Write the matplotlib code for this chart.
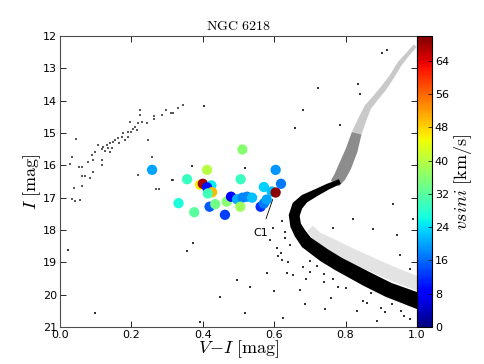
import numpy as np
import matplotlib
matplotlib.use('Agg')
import matplotlib.pyplot as plt

plt.rcParams['mathtext.fontset'] = 'cm'
plt.rcParams['xtick.direction'] = 'in'
plt.rcParams['ytick.direction'] = 'in'

# blue straggler stars: colour, magnitude, vsini
bss_vi = [0.258, 0.511, 0.412, 0.604, 0.356, 0.506, 0.392, 0.400, 0.424, 0.412,
          0.426, 0.414, 0.571, 0.619, 0.593, 0.604, 0.332, 0.376, 0.419, 0.435,
          0.462, 0.467, 0.479, 0.496, 0.511, 0.524, 0.538, 0.505, 0.562, 0.571, 0.579]
bss_i = [16.14, 15.51, 16.14, 16.14, 16.43, 16.43, 16.60, 16.57, 16.62, 16.68,
         16.83, 16.87, 16.67, 16.57, 16.81, 16.84, 17.17, 17.45, 17.28, 17.20,
         17.53, 17.12, 16.97, 17.05, 17.00, 16.97, 17.00, 17.28, 17.28, 17.18, 17.06]
vsini = [20, 36, 40, 19, 29, 29, 46, 68, 25, 10, 50, 30, 23, 17, 22, 69, 27, 32,
         15, 34, 13, 36, 8, 21, 18, 18, 22, 38, 12, 17, 20]

# main sequence / subgiant ridge line (dense part of the CMD)
ms_vi = [0.784, 0.75, 0.72, 0.685, 0.665, 0.656, 0.660, 0.672, 0.69, 0.74, 0.78, 0.86, 0.92, 1.00, 1.04]
ms_i = [16.50, 16.66, 16.83, 17.03, 17.25, 17.55, 17.85, 18.10, 18.38, 18.78, 19.05, 19.52, 19.85, 20.18, 20.35]
ms_half = [2.5, 3.0, 3.5, 4.5, 5.5, 5.5, 5.5, 6.0, 6.5, 7.0, 7.0, 7.5, 7.5, 8.0, 8.0]

# red giant branch ridge: lower (dense) and upper (sparse) parts
rgb_lo_vi = [0.770, 0.784, 0.798, 0.817, 0.831]
rgb_lo_i = [16.56, 16.35, 16.04, 15.53, 15.01]
rgb_lo_half = [5.0, 6.0, 6.5, 6.0, 5.0]
rgb_hi_vi = [0.831, 0.850, 0.863, 0.885, 0.906, 0.930, 0.952, 0.975, 0.995]
rgb_hi_i = [15.01, 14.50, 14.19, 13.90, 13.62, 13.25, 12.85, 12.55, 12.30]
rgb_hi_half = [5.0, 4.0, 3.5, 3.0, 3.0, 2.5, 2.5, 2.0, 2.0]

# binary sequence ridge (sparse band above the MS)
bin_vi = [0.70, 0.72, 0.76, 0.81, 0.86, 0.91, 0.96, 1.00, 1.04]
bin_i = [17.95, 18.20, 18.48, 18.75, 19.00, 19.25, 19.48, 19.65, 19.80]
bin_half = [4, 5, 7, 7, 7, 7, 7, 7, 7]

# horizontal branch + scattered field stars
hb_vi = [0.344, 0.331, 0.310, 0.316, 0.296, 0.285, 0.264, 0.264, 0.224, 0.224, 0.245,
         0.229, 0.219, 0.210, 0.204, 0.191, 0.177, 0.173, 0.163, 0.154, 0.149, 0.140,
         0.131, 0.121, 0.117, 0.126, 0.140, 0.135, 0.107, 0.098, 0.089, 0.079, 0.093,
         0.117, 0.117, 0.093, 0.061, 0.053, 0.033, 0.028, 0.044, 0.061, 0.070, 0.084,
         0.061, 0.039, 0.033, 0.042, 0.056, 0.247, 0.257, 0.219, 0.268, 0.277, 0.317,
         0.196, 0.215, 0.191, 0.182, 0.166, 0.145, 0.198]
hb_i = [14.13, 14.24, 14.37, 14.37, 14.29, 14.44, 14.47, 14.58, 14.29, 14.44, 14.68,
        14.65, 14.70, 14.80, 14.89, 14.96, 15.01, 15.11, 15.16, 15.22, 15.27, 15.32,
        15.37, 15.42, 15.51, 15.55, 15.58, 15.47, 15.37, 15.58, 15.68, 15.89, 15.83,
        15.83, 15.99, 16.20, 16.04, 16.04, 15.73, 15.96, 15.20, 16.33, 16.33, 16.38,
        16.64, 16.71, 17.04, 17.09, 17.07, 15.22, 15.73, 16.30, 16.73, 16.73, 16.45,
        14.65, 14.91, 15.11, 15.22, 15.30, 15.47, 14.96]
field_vi = [0.023, 0.098, 0.404, 0.369, 0.315, 0.373, 0.357, 0.518, 0.681, 0.658,
            0.724, 0.784, 0.840, 0.836, 0.901, 0.915, 0.448, 0.518, 0.495, 0.532,
            0.392, 0.625, 0.654, 0.672, 0.687, 0.742, 0.766, 0.832, 0.888, 0.963,
            0.588, 0.607, 0.597, 0.621, 0.630, 0.579, 0.621, 0.635, 0.766, 0.822,
            0.878, 0.943, 0.952, 0.934, 0.990, 0.612, 0.640, 0.700, 0.720, 0.800,
            0.850, 0.900, 0.980, 0.760, 0.870, 0.930, 0.980, 0.740, 0.690, 0.600,
            0.630, 0.645, 0.620, 0.700, 0.740, 0.680, 0.780, 0.860, 0.910, 0.955]
field_i = [18.62, 20.58, 14.17, 16.02, 16.45, 18.41, 18.65, 16.09, 14.29, 14.86,
           13.62, 14.75, 13.78, 13.47, 12.54, 12.42, 20.06, 20.58, 19.55, 19.75,
           20.84, 20.73, 19.39, 19.86, 20.29, 20.45, 19.51, 20.50, 20.82, 20.67,
           18.31, 18.56, 17.94, 17.72, 18.25, 19.34, 18.93, 19.34, 17.95, 17.65,
           17.96, 18.16, 18.76, 17.20, 17.65, 18.80, 19.00, 19.30, 19.10, 19.80,
           20.20, 20.40, 20.75, 20.10, 19.95, 20.30, 19.20, 19.60, 19.50, 19.90,
           18.05, 18.45, 18.70, 18.95, 19.35, 19.15, 19.75, 20.25, 20.55, 20.50]

vi_ticks = [0.0, 0.2, 0.4, 0.6, 0.8, 1.0]
i_ticks = [12, 13, 14, 15, 16, 17, 18, 19, 20, 21]
cb_ticks = [0, 8, 16, 24, 32, 40, 48, 56, 64]

# pixel scale of the axes, used to offset ridge lines perpendicular to themselves
px_x = 357.0
px_y = 32.33


def band(vi, mag, half):
    u = np.array(vi) * px_x
    v = np.array(mag) * px_y
    du = np.gradient(u)
    dv = np.gradient(v)
    n = np.hypot(du, dv)
    nu = -dv / n * np.array(half)
    nv = du / n * np.array(half)
    x = np.concatenate([u + nu, (u - nu)[::-1]]) / px_x
    y = np.concatenate([v + nv, (v - nv)[::-1]]) / px_y
    return x, y


fig = plt.figure(figsize=(4.85, 3.64), dpi=100)
ax = fig.add_axes([0.1237, 0.1016, 0.7361, 0.7995])
cax = fig.add_axes([0.8598, 0.1016, 0.0309, 0.7995])

# binary sequence and giant branch as light speckle bands
bx, by = band(bin_vi, bin_i, bin_half)
ax.fill(bx, by, color='0.5', alpha=0.22, linewidth=0)
rx, ry = band(rgb_hi_vi, rgb_hi_i, rgb_hi_half)
ax.fill(rx, ry, color='0.4', alpha=0.35, linewidth=0)
rx, ry = band(rgb_lo_vi, rgb_lo_i, rgb_lo_half)
ax.fill(rx, ry, color='0.25', alpha=0.6, linewidth=0)
# dense main sequence
mx, my = band(ms_vi, ms_i, ms_half)
ax.fill(mx, my, color='black', linewidth=0)

ax.scatter(hb_vi, hb_i, s=0.6, marker='s', color='0.35', linewidths=0)
ax.scatter(field_vi, field_i, s=0.6, marker='s', color='0.2', linewidths=0)

sc = ax.scatter(bss_vi, bss_i, c=vsini, cmap='jet', vmin=0, vmax=70,
                s=55, linewidths=0, zorder=3)

ax.annotate('C1', xy=(0.596, 17.05), xytext=(0.563, 18.1),
            ha='center', va='center', fontsize=8,
            arrowprops=dict(arrowstyle='-', color='black', lw=0.6,
                            shrinkA=5, shrinkB=0))

ax.set_xlim(0.0, 1.0)
ax.set_ylim(21, 12)
ax.set_xticks(vi_ticks)
ax.set_yticks(i_ticks)
ax.tick_params(labelsize=8, top=True, right=True, length=4, width=0.6, pad=2)
for s in ax.spines.values():
    s.set_linewidth(0.8)
    s.set_color('0.3')
ax.set_xlabel(r'$V\!-\!I\ [\mathrm{mag}]$', fontsize=13, labelpad=-1)
ax.set_ylabel(r'$I\ [\mathrm{mag}]$', fontsize=13, labelpad=0)
ax.set_title(r'$\mathrm{NGC\ 6218}$', fontsize=10, pad=4)

cb = fig.colorbar(sc, cax=cax, ticks=cb_ticks)
cb.outline.set_linewidth(0.8)
cb.ax.tick_params(labelsize=8, direction='in', length=3, width=0.5, pad=2)
cb.set_label(r'$vsini\ [\mathrm{km/s}]$', fontsize=13, labelpad=2)

fig.savefig('out.png', dpi=100)
